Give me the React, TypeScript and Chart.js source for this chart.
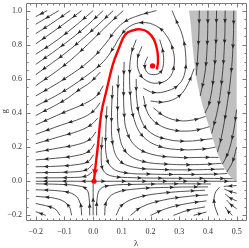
import React, { useEffect, useRef } from "react";
import { Chart, registerables } from "chart.js";

Chart.register(...registerables);

type Pt = [number, number];

// ---- axes ----
const xRange: Pt = [-0.234, 0.534];
const yRange: Pt = [-0.227, 1.047];
const xMajorTicks = [-0.2, -0.1, 0, 0.1, 0.2, 0.3, 0.4, 0.5];
const xTickLabels = ["−0.2", "−0.1", "0.0", "0.1", "0.2", "0.3", "0.4", "0.5"];
const yMajorTicks = [-0.2, 0, 0.2, 0.4, 0.6, 0.8, 1.0];
const yTickLabels = ["−0.2", "0.0", "0.2", "0.4", "0.6", "0.8", "1.0"];
const xMinorStep = 0.02;
const yMinorStep = 0.05;
const xTitle = "λ";
const yTitle = "g";

// ---- excluded (gray) region boundary ----
const grayBoundary: Pt[] = [
  [0.334, 1.0], [0.34, 0.92], [0.346, 0.8], [0.352, 0.7], [0.36, 0.6], [0.37, 0.52],
  [0.382, 0.44], [0.396, 0.36], [0.41, 0.29], [0.426, 0.2], [0.445, 0.115],
  [0.468, 0.045], [0.49, 0.008], [0.5, 0.0], [0.5, 1.0],
];

// ---- separatrix (red) and fixed points ----
const separatrix: Pt[] = [
  [0.222, 0.655], [0.226, 0.7], [0.224, 0.76], [0.212, 0.83], [0.19, 0.875], [0.165, 0.89],
  [0.14, 0.885], [0.112, 0.86], [0.09, 0.78], [0.069, 0.686], [0.046, 0.529],
  [0.028, 0.395], [0.017, 0.215], [0.009, 0.099], [0.003, 0.005],
];
const separatrixArrowAt: Pt = [0.005, 0.05];
const fixedPoints: Pt[] = [[0.207, 0.676], [0.003, 0.0]];

// ---- streamlines (in flow order) ----
const upperLeftLines: Pt[][] = [
  [[-0.16, 1.0], [-0.2, 0.965]],
  [[-0.12, 1.0], [-0.16, 0.96], [-0.2, 0.92]],
  [[-0.08, 1.0], [-0.14, 0.93], [-0.2, 0.865]],
  [[-0.04, 1.0], [-0.12, 0.9], [-0.2, 0.805]],
  [[0.0, 1.0], [-0.07, 0.9], [-0.14, 0.81], [-0.2, 0.745]],
  [[0.035, 1.0], [-0.04, 0.885], [-0.12, 0.78], [-0.2, 0.685]],
  [[0.07, 1.0], [0.0, 0.89], [-0.09, 0.76], [-0.2, 0.625]],
  [[0.105, 1.0], [0.05, 0.915], [-0.02, 0.8], [-0.1, 0.68], [-0.2, 0.56]],
  [[0.22, 1.0], [0.16, 0.972], [0.115, 0.94], [0.08, 0.89], [0.045, 0.81], [-0.01, 0.71], [-0.1, 0.6], [-0.2, 0.5]],
];

const leftOfSeparatrixLines: Pt[][] = [
  [[0.025, 0.64], [-0.01, 0.58], [-0.05, 0.535], [-0.1, 0.475], [-0.2, 0.385]],
  [[0.035, 0.56], [0.012, 0.5], [-0.03, 0.455], [-0.1, 0.405], [-0.2, 0.33]],
  [[0.024, 0.46], [0.0, 0.41], [-0.04, 0.37], [-0.11, 0.33], [-0.2, 0.275]],
  [[0.016, 0.37], [-0.008, 0.33], [-0.05, 0.295], [-0.12, 0.26], [-0.2, 0.22]],
  [[0.01, 0.29], [-0.012, 0.245], [-0.055, 0.215], [-0.12, 0.195], [-0.2, 0.17]],
  [[0.005, 0.22], [-0.015, 0.175], [-0.06, 0.15], [-0.13, 0.135], [-0.2, 0.125]],
  [[0.001, 0.155], [-0.018, 0.115], [-0.06, 0.097], [-0.13, 0.088], [-0.2, 0.085]],
  [[-0.002, 0.1], [-0.02, 0.07], [-0.06, 0.056], [-0.2, 0.05]],
  [[-0.003, 0.055], [-0.025, 0.03], [-0.08, 0.022], [-0.2, 0.02]],
];

const axisLines: Pt[][] = [
  [[0.0, 0.0], [-0.2, 0.0]],
  [[0.0, 0.0], [0.5, 0.0]],
  [[0.0, -0.2], [0.0, -0.015]],
];

const rightOfSeparatrixLines: Pt[][] = [
  [[0.032, 0.26], [0.028, 0.14], [0.035, 0.065], [0.06, 0.033], [0.12, 0.022], [0.25, 0.018], [0.4, 0.017], [0.486, 0.015]],
  [[0.048, 0.44], [0.044, 0.28], [0.046, 0.15], [0.065, 0.08], [0.11, 0.05], [0.2, 0.042], [0.33, 0.04], [0.43, 0.042], [0.467, 0.046]],
  [[0.068, 0.56], [0.064, 0.38], [0.068, 0.22], [0.09, 0.125], [0.14, 0.083], [0.22, 0.07], [0.34, 0.067], [0.457, 0.072]],
  [[0.088, 0.62], [0.085, 0.45], [0.09, 0.28], [0.115, 0.17], [0.17, 0.118], [0.26, 0.1], [0.37, 0.098], [0.447, 0.105]],
  [[0.108, 0.7], [0.106, 0.55], [0.108, 0.4], [0.116, 0.3], [0.145, 0.21], [0.2, 0.16], [0.29, 0.14], [0.38, 0.14], [0.437, 0.14]],
  [[0.15, 0.83], [0.132, 0.74], [0.127, 0.62], [0.13, 0.5], [0.14, 0.38], [0.17, 0.27], [0.23, 0.205], [0.31, 0.185], [0.39, 0.19], [0.426, 0.2]],
  [[0.15, 0.6], [0.152, 0.48], [0.167, 0.36], [0.2, 0.285], [0.26, 0.245], [0.33, 0.235], [0.39, 0.245], [0.416, 0.25]],
  [[0.175, 0.5], [0.19, 0.4], [0.225, 0.335], [0.28, 0.3], [0.34, 0.295], [0.385, 0.31], [0.405, 0.32]],
  [[0.21, 0.43], [0.25, 0.38], [0.3, 0.355], [0.35, 0.36], [0.392, 0.38]],
];

const spiralLines: Pt[][] = [
  [[0.19, 0.73], [0.18, 0.685], [0.187, 0.64], [0.21, 0.625], [0.235, 0.64], [0.245, 0.69], [0.243, 0.76], [0.232, 0.83]],
  [[0.17, 0.79], [0.155, 0.72], [0.16, 0.64], [0.185, 0.59], [0.225, 0.575], [0.265, 0.605], [0.282, 0.68], [0.278, 0.77],
   [0.255, 0.855], [0.22, 0.91], [0.17, 0.93], [0.125, 0.905], [0.095, 0.85], [0.07, 0.78], [0.035, 0.7],
   [-0.03, 0.61], [-0.11, 0.52], [-0.2, 0.44]],
  [[0.175, 0.545], [0.21, 0.52], [0.26, 0.53], [0.3, 0.57], [0.32, 0.64], [0.322, 0.75], [0.31, 0.86], [0.29, 0.94], [0.275, 1.0]],
  [[0.2, 0.47], [0.25, 0.465], [0.3, 0.5], [0.33, 0.57], [0.352, 0.66]],
];

const grayRegionLines: Pt[][] = [
  [[0.37, 1.0], [0.368, 0.85], [0.363, 0.7], [0.359, 0.62]],
  [[0.4, 1.0], [0.398, 0.82], [0.39, 0.64], [0.373, 0.5]],
  [[0.43, 1.0], [0.428, 0.82], [0.42, 0.62], [0.405, 0.46], [0.39, 0.4]],
  [[0.46, 1.0], [0.458, 0.82], [0.45, 0.62], [0.435, 0.43], [0.413, 0.28]],
  [[0.49, 1.0], [0.488, 0.82], [0.48, 0.62], [0.465, 0.43], [0.447, 0.26], [0.433, 0.17]],
  [[0.5, 0.42], [0.49, 0.3], [0.475, 0.19], [0.46, 0.13], [0.45, 0.1]],
  [[0.5, 0.2], [0.485, 0.11], [0.466, 0.055]],
];

const lowerLeftLines: Pt[][] = [
  [[-0.012, -0.2], [-0.014, -0.1], [-0.024, -0.045], [-0.06, -0.025], [-0.12, -0.018], [-0.2, -0.015]],
  [[-0.04, -0.2], [-0.045, -0.13], [-0.065, -0.08], [-0.11, -0.058], [-0.2, -0.05]],
  [[-0.075, -0.2], [-0.085, -0.145], [-0.12, -0.105], [-0.2, -0.088]],
  [[-0.115, -0.2], [-0.135, -0.16], [-0.2, -0.13]],
  [[-0.165, -0.2], [-0.2, -0.178]],
];

const lowerRightLines: Pt[][] = [
  [[0.012, -0.2], [0.014, -0.1], [0.025, -0.045], [0.06, -0.025], [0.15, -0.018], [0.3, -0.015], [0.41, -0.016]],
  [[0.04, -0.2], [0.046, -0.12], [0.075, -0.07], [0.15, -0.045], [0.28, -0.035], [0.4, -0.033]],
  [[0.08, -0.2], [0.1, -0.14], [0.155, -0.095], [0.25, -0.068], [0.39, -0.052]],
  [[0.13, -0.2], [0.17, -0.15], [0.245, -0.11], [0.34, -0.087], [0.4, -0.08]],
  [[0.2, -0.2], [0.255, -0.16], [0.33, -0.13], [0.395, -0.115]],
  [[0.28, -0.2], [0.33, -0.17], [0.39, -0.15]],
  [[0.35, -0.2], [0.395, -0.18]],
  [[0.435, -0.2], [0.422, -0.13], [0.425, -0.07], [0.44, -0.035]],
];

const farRightLowerLines: Pt[][] = [
  [[0.5, -0.025], [0.475, -0.028], [0.455, -0.03]],
  [[0.5, -0.07], [0.478, -0.06], [0.457, -0.045]],
  [[0.5, -0.115], [0.48, -0.1], [0.46, -0.075]],
  [[0.5, -0.16], [0.482, -0.14], [0.465, -0.11]],
  [[0.485, -0.2], [0.47, -0.175], [0.46, -0.15]],
];

const streamColor = "#262626";
const redColor = "#ff0000";
const grayFill = "#c0c0c0";
const frameColor = "#7a7a7a";
const labelColor = "#333333";

const toXY = (pts: Pt[]) => pts.map(([x, y]) => ({ x, y }));

function sampleCurve(meta: any) {
  const pts: any[] = meta.data;
  const out: { x: number; y: number }[] = [];
  for (let k = 0; k < pts.length - 1; k++) {
    const a = pts[k];
    const b = pts[k + 1];
    const c1x = a.cp2x ?? a.x, c1y = a.cp2y ?? a.y;
    const c2x = b.cp1x ?? b.x, c2y = b.cp1y ?? b.y;
    const N = 16;
    for (let s = 0; s < N; s++) {
      const t = s / N, u = 1 - t;
      out.push({
        x: u * u * u * a.x + 3 * u * u * t * c1x + 3 * u * t * t * c2x + t * t * t * b.x,
        y: u * u * u * a.y + 3 * u * u * t * c1y + 3 * u * t * t * c2y + t * t * t * b.y,
      });
    }
  }
  const last = pts[pts.length - 1];
  out.push({ x: last.x, y: last.y });
  return out;
}

function drawArrow(ctx: CanvasRenderingContext2D, x: number, y: number, dx: number, dy: number, len: number, hw: number) {
  const n = Math.hypot(dx, dy) || 1;
  const ux = dx / n, uy = dy / n;
  const tx = x + ux * len * 0.5, ty = y + uy * len * 0.5;
  const bx = x - ux * len * 0.5, by = y - uy * len * 0.5;
  ctx.beginPath();
  ctx.moveTo(tx, ty);
  ctx.lineTo(bx - uy * hw, by + ux * hw);
  ctx.lineTo(bx + ux * len * 0.15, by + uy * len * 0.15);
  ctx.lineTo(bx + uy * hw, by - ux * hw);
  ctx.closePath();
  ctx.fill();
}

const grayPlugin = {
  id: "grayRegion",
  beforeDatasetsDraw(chart: any) {
    const { ctx, scales } = chart;
    const xs = scales.x, ys = scales.y;
    ctx.save();
    ctx.fillStyle = grayFill;
    ctx.beginPath();
    grayBoundary.forEach(([x, y], i) => {
      const px = xs.getPixelForValue(x), py = ys.getPixelForValue(y);
      if (i === 0) ctx.moveTo(px, py);
      else ctx.lineTo(px, py);
    });
    ctx.closePath();
    ctx.fill();
    ctx.restore();
  },
};

const arrowPlugin = {
  id: "streamArrows",
  afterDatasetsDraw(chart: any) {
    const ctx: CanvasRenderingContext2D = chart.ctx;
    const xs = chart.scales.x, ys = chart.scales.y;
    ctx.save();
    const order: number[] = [];
    chart.data.datasets.forEach((_: any, i: number) => order.push(i));
    order.reverse();
    for (const i of order) {
      const ds: any = chart.data.datasets[i];
      if (!ds.arrowMode) continue;
      const meta = chart.getDatasetMeta(i);
      if (meta.dataset && meta.dataset.updateControlPoints) meta.dataset.updateControlPoints(chart.chartArea, "x");
      const samp = sampleCurve(meta);
      const cum = [0];
      for (let k = 1; k < samp.length; k++) cum.push(cum[k - 1] + Math.hypot(samp[k].x - samp[k - 1].x, samp[k].y - samp[k - 1].y));
      const L = cum[cum.length - 1];
      ctx.fillStyle = ds.arrowColor;
      const targets: number[] = [];
      if (ds.arrowMode === "spaced") {
        const n = Math.max(1, Math.round(L / 22));
        for (let j = 0; j < n; j++) targets.push(((j + 0.5) * L) / n);
      } else if (ds.arrowMode === "at") {
        const px = xs.getPixelForValue(ds.arrowAt[0]), py = ys.getPixelForValue(ds.arrowAt[1]);
        let best = 0, bd = Infinity;
        samp.forEach((p, k) => {
          const d = Math.hypot(p.x - px, p.y - py);
          if (d < bd) { bd = d; best = k; }
        });
        targets.push(cum[best]);
      }
      for (const s of targets) {
        let k = 1;
        while (k < cum.length - 1 && cum[k] < s) k++;
        const a = samp[Math.max(0, k - 2)], b = samp[Math.min(samp.length - 1, k + 1)];
        const f = (s - cum[k - 1]) / ((cum[k] - cum[k - 1]) || 1);
        const x = samp[k - 1].x + (samp[k].x - samp[k - 1].x) * f;
        const y = samp[k - 1].y + (samp[k].y - samp[k - 1].y) * f;
        drawArrow(ctx, x, y, b.x - a.x, b.y - a.y, ds.arrowLen, ds.arrowHalfWidth);
      }
    }
    ctx.restore();
  },
};

const framePlugin = {
  id: "mmaFrame",
  afterDraw(chart: any) {
    const ctx: CanvasRenderingContext2D = chart.ctx;
    const { left, right, top, bottom } = chart.chartArea;
    const xs = chart.scales.x, ys = chart.scales.y;
    ctx.save();
    ctx.strokeStyle = frameColor;
    ctx.lineWidth = 1;
    const L = Math.round(left) + 0.5, R = Math.round(right) + 0.5;
    const T = Math.round(top) + 0.5, B = Math.round(bottom) + 0.5;
    ctx.beginPath();
    ctx.moveTo(L, T); ctx.lineTo(R, T); ctx.lineTo(R, B); ctx.lineTo(L, B); ctx.closePath();
    ctx.stroke();
    ctx.beginPath();
    const major = 4, minor = 2;
    const isMajorX = (v: number) => xMajorTicks.some((m) => Math.abs(m - v) < 1e-6);
    const isMajorY = (v: number) => yMajorTicks.some((m) => Math.abs(m - v) < 1e-6);
    for (let k = Math.ceil(xRange[0] / xMinorStep); k * xMinorStep <= xRange[1] + 1e-9; k++) {
      const v = Math.round(k * xMinorStep * 1000) / 1000;
      const len = isMajorX(v) ? major : minor;
      const px = Math.round(xs.getPixelForValue(v)) + 0.5;
      ctx.moveTo(px, B); ctx.lineTo(px, B - len);
      ctx.moveTo(px, T); ctx.lineTo(px, T + len);
    }
    for (let k = Math.ceil(yRange[0] / yMinorStep); k * yMinorStep <= yRange[1] + 1e-9; k++) {
      const v = Math.round(k * yMinorStep * 1000) / 1000;
      const len = isMajorY(v) ? major : minor;
      const py = Math.round(ys.getPixelForValue(v)) + 0.5;
      ctx.moveTo(L, py); ctx.lineTo(L + len, py);
      ctx.moveTo(R, py); ctx.lineTo(R - len, py);
    }
    ctx.stroke();

    ctx.fillStyle = labelColor;
    ctx.font = '8px "Liberation Serif", "DejaVu Serif", serif';
    ctx.textAlign = "center";
    ctx.textBaseline = "middle";
    xMajorTicks.forEach((v, i) => ctx.fillText(xTickLabels[i], xs.getPixelForValue(v), bottom + 11.5));
    ctx.textAlign = "right";
    yMajorTicks.forEach((v, i) => ctx.fillText(yTickLabels[i], left - 4, ys.getPixelForValue(v)));
    ctx.font = '9px "Liberation Serif", "DejaVu Serif", serif';
    ctx.textAlign = "center";
    ctx.fillText(xTitle, (left + right) / 2, bottom + 24);
    ctx.save();
    ctx.translate(5, (top + bottom) / 2);
    ctx.rotate(-Math.PI / 2);
    ctx.fillText(yTitle, 0, 0);
    ctx.restore();
    ctx.restore();
  },
};

export default function App() {
  const ref = useRef<HTMLCanvasElement>(null);
  useEffect(() => {
    if (!ref.current) return;
    const streams: Pt[][] = [
      ...upperLeftLines, ...leftOfSeparatrixLines, ...axisLines, ...rightOfSeparatrixLines,
      ...spiralLines, ...grayRegionLines, ...lowerLeftLines, ...lowerRightLines, ...farRightLowerLines,
    ];
    const datasets: any[] = [
      {
        data: toXY(fixedPoints), showLine: false, pointRadius: 2.6, pointBackgroundColor: redColor,
        pointBorderWidth: 0, pointHoverRadius: 0,
      },
      {
        data: toXY(separatrix), borderColor: redColor, borderWidth: 2.4, pointRadius: 0, tension: 0.4,
        arrowMode: "at", arrowAt: separatrixArrowAt, arrowColor: redColor, arrowLen: 7, arrowHalfWidth: 3.2,
      },
      ...streams.map((l) => ({
        data: toXY(l), borderColor: streamColor, borderWidth: 0.8, pointRadius: 0, tension: 0.4,
        arrowMode: "spaced", arrowColor: streamColor, arrowLen: 4.6, arrowHalfWidth: 1.9,
      })),
    ];
    const chart = new Chart(ref.current, {
      type: "line",
      data: { datasets },
      options: {
        responsive: false,
        animation: false,
        events: [],
        layout: { padding: { left: 26, right: 2, top: 1, bottom: 28 } },
        scales: {
          x: { type: "linear", min: xRange[0], max: xRange[1], display: false },
          y: { type: "linear", min: yRange[0], max: yRange[1], display: false },
        },
        plugins: { legend: { display: false }, tooltip: { enabled: false } },
      },
      plugins: [grayPlugin, arrowPlugin, framePlugin],
    } as any);
    return () => chart.destroy();
  }, []);
  return (
    <div style={{ position: "absolute", left: 0, top: 0, width: 249, height: 248, background: "#ffffff" }}>
      <canvas ref={ref} width={249} height={248} style={{ display: "block", width: 249, height: 248 }} />
    </div>
  );
}
